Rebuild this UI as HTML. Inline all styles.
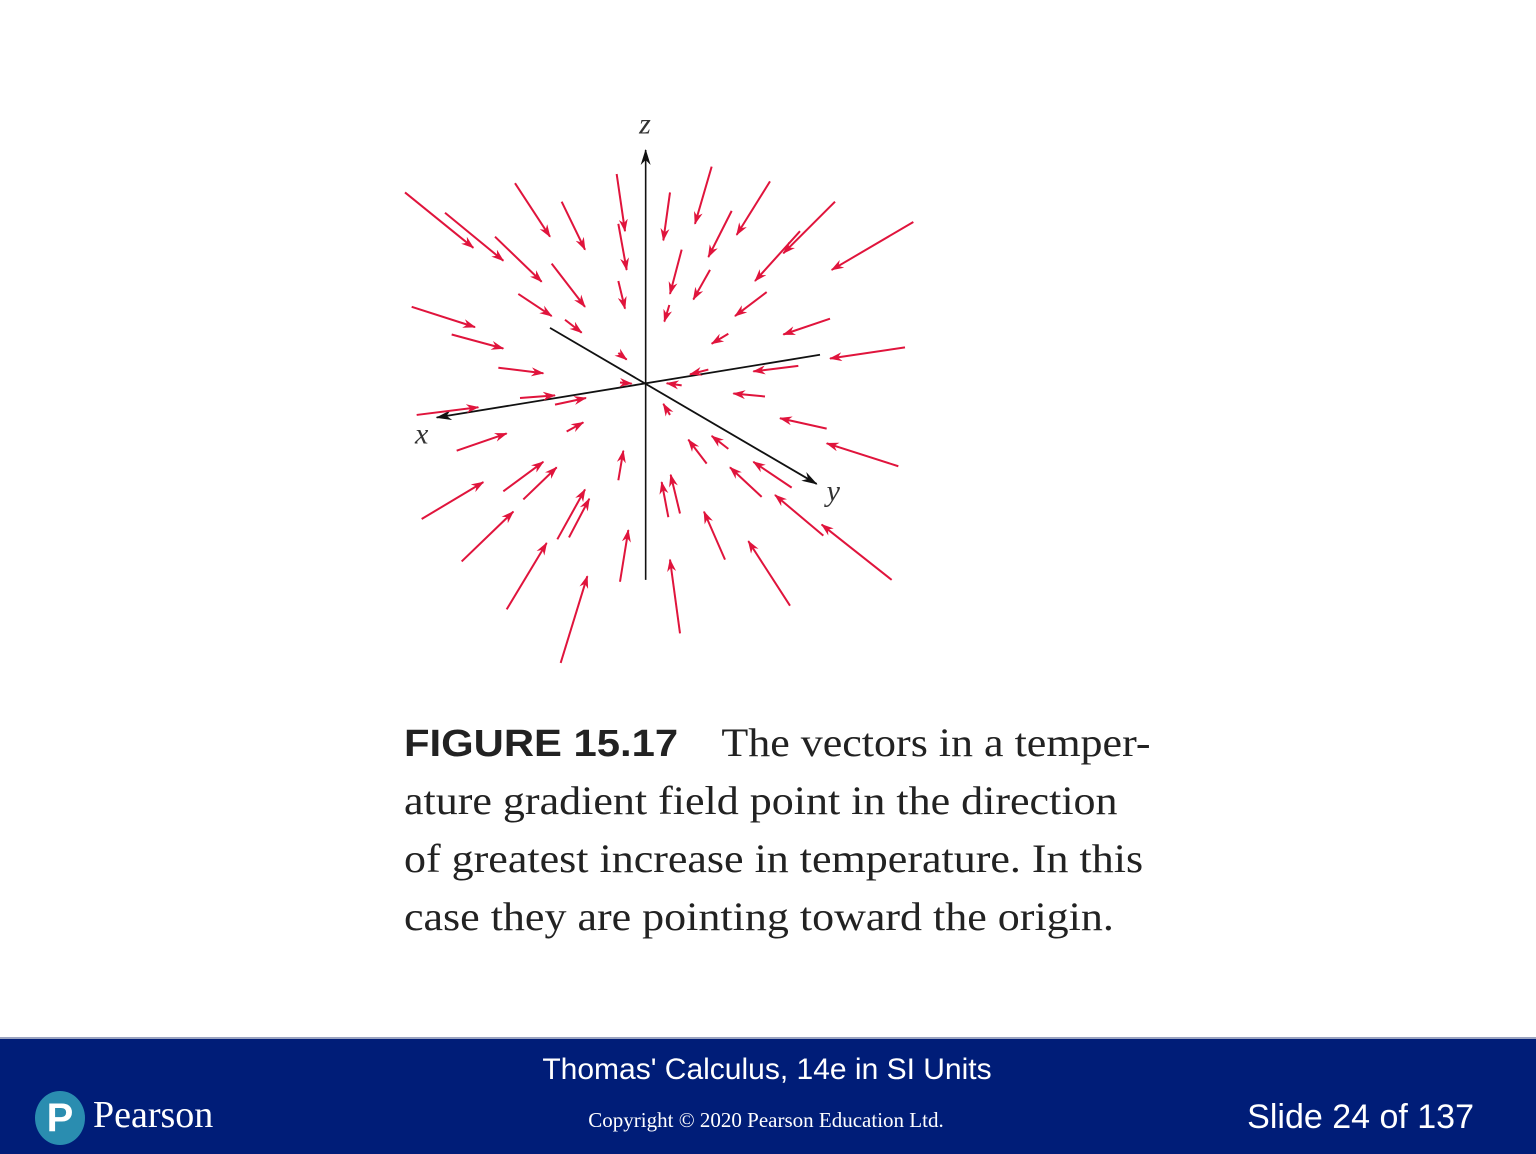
<!DOCTYPE html>
<html><head><meta charset="utf-8"><style>
body{margin:0;width:1536px;height:1152px;background:#fff;position:relative;overflow:hidden;font-family:"Liberation Sans",sans-serif}
.cap{position:absolute;left:404px;font-family:"Liberation Serif",serif;font-size:40px;color:#222;white-space:nowrap;transform:scaleX(1.1);transform-origin:0 0}
.footer{position:absolute;left:0;top:1037px;width:1536px;height:115px;background:#001d78;border-top:2px solid #9aa3c0}
</style></head><body>
<svg width="1536" height="1036" style="position:absolute;left:0;top:0">
<defs>
<marker id="rh" markerWidth="13" markerHeight="9" refX="12" refY="4.5" orient="auto" markerUnits="userSpaceOnUse"><path d="M0,0 L13,4.5 L0,9 L4,4.5Z" fill="#e0143c"/></marker>
<marker id="bh" markerWidth="16" markerHeight="10" refX="15" refY="5" orient="auto" markerUnits="userSpaceOnUse"><path d="M0,0 L16,5 L0,10 L5,5Z" fill="#111"/></marker>
</defs>
<g id="axes"></g><g id="vecs"></g>
</svg>
<div class="cap" style="top:719px"><span style="font-family:'Liberation Sans',sans-serif;font-weight:bold;font-size:38px">FIGURE 15.17</span>&nbsp;&nbsp;&nbsp; The vectors in a temper-</div>
<div class="cap" style="top:777px">ature gradient field point in the direction</div>
<div class="cap" style="top:835px">of greatest increase in temperature. In this</div>
<div class="cap" style="top:893px">case they are pointing toward the origin.</div>
<div class="footer">
<div style="position:absolute;left:0;width:1534px;text-align:center;top:14px;color:#fff;font-size:30px">Thomas' Calculus, 14e in SI Units</div>
<div style="position:absolute;left:0;width:1532px;text-align:center;top:69px;color:#fff;font-size:21px;font-family:'Liberation Serif',serif">Copyright © 2020 Pearson Education Ltd.</div>
<div style="position:absolute;right:62px;top:59px;color:#fff;font-size:34px">Slide 24 of 137</div>
<div style="position:absolute;left:35px;top:52px;width:50px;height:54px;border-radius:50%;background:#2a8db0;color:#fff;font:bold 40px 'Liberation Sans',sans-serif;text-align:center;line-height:54px">P</div>
<div style="position:absolute;left:93px;top:54px;color:#fff;font-size:38px;font-family:'Liberation Serif',serif">Pearson</div>
</div>
<script>
const tails=[[15,255],[135,310],[345,230],[485,280],[285,375],[455,448],[355,530],[495,600],[650,205],[655,340],[655,495],[810,255],[935,185],[995,305],[845,410],[930,465],[808,560],[1110,225],[1305,280],[1200,360],[1540,335],[1100,525],[1290,597],[985,638],[1515,675],[1195,725],[925,735],[845,778],[1095,808],[1280,895],[1495,997],[35,565],[155,640],[295,730],[360,812],[465,830],[655,690],[660,770],[50,858],[170,955],[500,903],[65,1140],[310,1065],[370,1087],[185,1255],[472,1195],[507,1190],[320,1385],[482,1530],[660,1310],[655,1035],[810,858],[805,1135],[840,1125],[840,1450],[975,1250],[920,990],[985,950],[1085,1080],[1175,1055],[1270,1185],[1475,1305],[1170,1375]];
const heads=[[220,405],[310,440],[450,375],[555,410],[425,497],[555,565],[455,590],[545,635],[675,360],[680,465],[675,570],[790,385],[885,340],[925,430],[810,530],[880,545],[793,605],[1010,370],[1150,420],[1065,495],[1295,465],[1005,590],[1150,640],[935,665],[1290,705],[1060,740],[870,748],[800,772],[1000,800],[1140,867],[1280,935],[225,620],[310,678],[430,745],[465,805],[558,812],[680,708],[695,773],[235,837],[320,908],[550,878],[250,1040],[430,985],[470,1000],[340,1120],[555,1060],[568,1085],[440,1205],[562,1295],[685,1170],[670,955],[790,828],[785,1040],[812,1020],[810,1250],[912,1120],[865,925],[935,915],[990,1000],[1060,985],[1125,1075],[1265,1155],[1045,1200]];
const sx=v=>400+v/3, sy=v=>150+(v-140)/2.71;
const NS='http://www.w3.org/2000/svg';
const vg=document.getElementById('vecs'), ag=document.getElementById('axes');
function ln(g,a,b,stroke,w,m){const l=document.createElementNS(NS,'line');l.setAttribute('x1',sx(a[0]));l.setAttribute('y1',sy(a[1]));l.setAttribute('x2',sx(b[0]));l.setAttribute('y2',sy(b[1]));l.setAttribute('stroke',stroke);l.setAttribute('stroke-width',w);if(m)l.setAttribute('marker-end','url(#'+m+')');g.appendChild(l);return l;}
const zA=ln(ag,[737,1305],[737,140],'#111',1.6,'bh');


const xA=ln(ag,[1260,695],[110,865],'#111',1.8,'bh');


const yA=ln(ag,[450,622],[1250,1045],'#111',1.8,'bh');


[['z',735,95,'z-axis-label'],['x',65,935,'x-axis-label'],['y',1300,1090,'y-axis-label']].forEach(t=>{const e=document.createElementNS(NS,'text');e.setAttribute('x',sx(t[1]));e.setAttribute('y',sy(t[2]));e.setAttribute('text-anchor','middle');e.setAttribute('font-family','Liberation Serif, serif');e.setAttribute('font-style','italic');e.setAttribute('font-size','30');e.setAttribute('fill','#333');e.textContent=t[0];


ag.appendChild(e);});
tails.forEach((t,i)=>{const l=ln(vg,t,heads[i],'#e0143c',2,'rh');


});
</script>
</body></html>
